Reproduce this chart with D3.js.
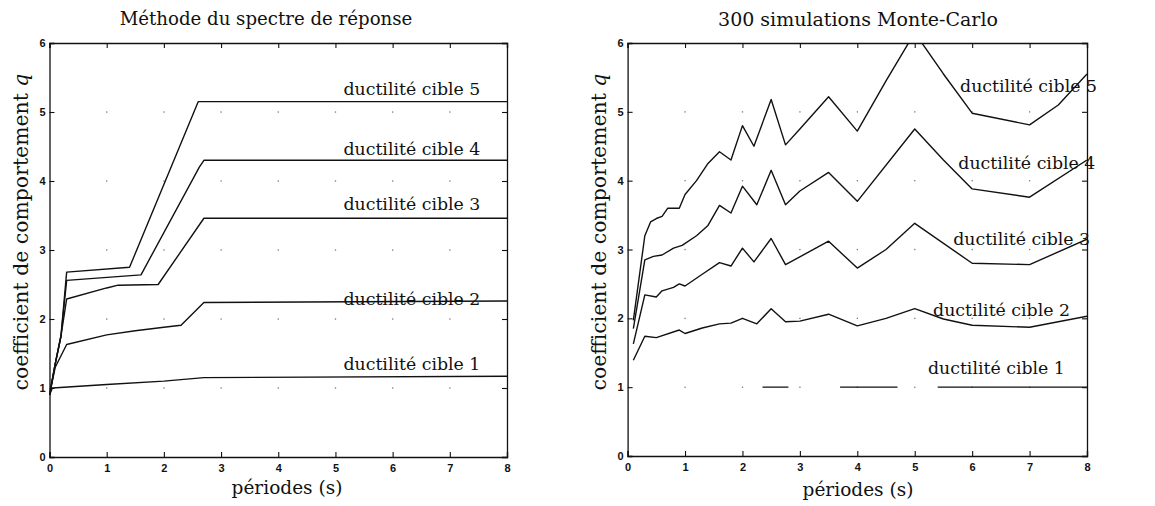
<!DOCTYPE html>
<html><head><meta charset="utf-8">
<script src="https://cdn.jsdelivr.net/npm/d3@7/dist/d3.min.js"></script>
<style>
body{margin:0;background:#fff;}
svg{display:block;}
</style></head>
<body>
<svg id="chart" width="1155" height="506"></svg>
<script>
// ---------- DATA ----------
const xTicks = [0,1,2,3,4,5,6,7,8];
const yTicks = [0,1,2,3,4,5,6];
const titles = ["Méthode du spectre de réponse", "300 simulations Monte-Carlo"];
const xLabel = "périodes (s)";
const yLabelMain = "coefficient de comportement ";
const yLabelVar = "q";
const seriesNames = ["ductilité cible 1","ductilité cible 2","ductilité cible 3","ductilité cible 4","ductilité cible 5"];

// Left panel: response spectrum method, [period, q]
const leftD1 = [[0,0.9],[0.05,1.0],[1,1.05],[2,1.1],[2.7,1.15],[8,1.17]];
const leftD2 = [[0,0.9],[0.1,1.3],[0.3,1.63],[1,1.77],[1.5,1.83],[2,1.88],[2.3,1.91],[2.7,2.24],[8,2.26]];
const leftD3 = [[0,0.9],[0.1,1.35],[0.2,1.75],[0.3,2.29],[1,2.45],[1.2,2.49],[1.9,2.5],[2.7,3.46],[8,3.46]];
const leftD4 = [[0,0.9],[0.1,1.35],[0.2,1.75],[0.3,2.56],[1.6,2.64],[2.62,4.2],[2.7,4.3],[8,4.3]];
const leftD5 = [[0,0.9],[0.1,1.35],[0.2,1.75],[0.3,2.68],[1.4,2.75],[2.6,5.15],[8,5.15]];

// Right panel: 300 Monte-Carlo simulations, [period, q] (null = gap in the printed line)
const rightD1 = [[2.35,1],[2.8,1],[2.8,null],[3.7,1],[4.7,1],[4.7,null],[5.4,1],[8,1]];
const rightD2 = [[0.1,1.39],[0.3,1.74],[0.5,1.72],[0.9,1.83],[1.0,1.78],[1.3,1.86],[1.6,1.92],[1.8,1.93],[2.0,2.0],[2.25,1.92],[2.5,2.14],[2.75,1.95],[3.0,1.96],[3.5,2.06],[4.0,1.89],[4.5,2.0],[5.0,2.14],[5.5,1.99],[6.0,1.9],[7.0,1.87],[8.0,2.03]];
const rightD3 = [[0.1,1.63],[0.3,2.34],[0.5,2.31],[0.6,2.4],[0.8,2.45],[0.9,2.5],[1.0,2.47],[1.3,2.64],[1.6,2.81],[1.8,2.76],[2.0,3.02],[2.2,2.82],[2.5,3.16],[2.75,2.78],[3.5,3.12],[4.0,2.73],[4.5,3.0],[5.0,3.38],[6.0,2.8],[7.0,2.78],[8.0,3.15]];
const rightD4 = [[0.1,1.85],[0.3,2.85],[0.45,2.9],[0.6,2.92],[0.8,3.02],[0.95,3.06],[1.2,3.2],[1.4,3.35],[1.6,3.64],[1.8,3.53],[2.0,3.92],[2.25,3.65],[2.5,4.15],[2.75,3.65],[3.0,3.85],[3.5,4.12],[4.0,3.7],[5.0,4.75],[5.5,4.3],[6.0,3.88],[7.0,3.76],[8.0,4.3]];
const rightD5 = [[0.1,1.97],[0.3,3.2],[0.4,3.4],[0.5,3.45],[0.6,3.48],[0.7,3.6],[0.9,3.6],[1.0,3.8],[1.2,4.0],[1.4,4.25],[1.6,4.42],[1.8,4.3],[2.0,4.8],[2.2,4.5],[2.5,5.18],[2.75,4.52],[3.0,4.75],[3.5,5.22],[4.0,4.72],[4.5,5.45],[5.0,6.15],[5.5,5.55],[6.0,4.98],[7.0,4.81],[7.5,5.1],[8.0,5.55]];

// label anchor positions in data units [period, q]
const leftLabelPos  = [[5.14,1.26],[5.14,2.2],[5.14,3.58],[5.14,4.38],[5.14,5.25]];
const rightLabelPos = [[5.23,1.19],[5.32,2.03],[5.67,3.06],[5.76,4.17],[5.79,5.29]];

// ---------- DRAW ----------
const svg = d3.select("#chart");
const serif = "'DejaVu Serif','Liberation Serif',serif";

// font size giving a target rendered width for a text
function fitSize(str, width) {
  const t = svg.append("text").attr("font-family",serif).attr("font-size",20).text(str);
  const w = t.node().getComputedTextLength();
  t.remove();
  return 20 * width / w;
}
const fsLabel = fitSize(seriesNames[4], 137);
const fsXLab = fitSize(xLabel, 111);
const fsYLab = fitSize(yLabelMain + yLabelVar, 317);

const panels = [
  {left:49.5, right:507, top:43, bottom:457, title:titles[0], titleX:266, titleW:293, titleY:25, cx:287, xlY:494,
   series:[leftD1,leftD2,leftD3,leftD4,leftD5], labels:leftLabelPos, id:"L"},
  {left:627.6, right:1087, top:43, bottom:456, title:titles[1], titleX:858, titleW:280, titleY:26, cx:858, xlY:496,
   series:[rightD1,rightD2,rightD3,rightD4,rightD5], labels:rightLabelPos, id:"R"}
];

panels.forEach(p => {
  const x = d3.scaleLinear().domain([0,8]).range([p.left,p.right]);
  const y = d3.scaleLinear().domain([0,6]).range([p.bottom,p.top]);
  const g = svg.append("g");

  g.append("clipPath").attr("id","clip"+p.id)
    .append("rect").attr("x",p.left).attr("y",p.top)
    .attr("width",p.right-p.left).attr("height",p.bottom-p.top);

  // faint dotted grid remnants at tick intersections
  xTicks.slice(1,-1).forEach(tx => yTicks.slice(1,-1).forEach(ty => {
    g.append("rect").attr("x",x(tx)-0.6).attr("y",y(ty)-0.6)
      .attr("width",1.3).attr("height",1.3).attr("fill","#777");
  }));

  // axes (inward ticks, all four sides)
  const tl = -5;
  g.append("g").attr("transform",`translate(0,${p.bottom})`)
    .call(d3.axisBottom(x).tickValues(xTicks).tickSize(tl).tickPadding(7).tickFormat(d3.format("d")));
  g.append("g").attr("transform",`translate(0,${p.top})`)
    .call(d3.axisTop(x).tickValues(xTicks).tickSize(tl).tickFormat(""));
  g.append("g").attr("transform",`translate(${p.left},0)`)
    .call(d3.axisLeft(y).tickValues(yTicks).tickSize(tl).tickPadding(4).tickFormat(d3.format("d")));
  g.append("g").attr("transform",`translate(${p.right},0)`)
    .call(d3.axisRight(y).tickValues(yTicks).tickSize(tl).tickFormat(""));
  g.selectAll(".domain").attr("stroke","#111").attr("stroke-width",1.3);
  g.selectAll(".tick line").attr("stroke","#111").attr("stroke-width",1.1);
  g.selectAll(".tick text").attr("font-family","'Liberation Sans',Arial,sans-serif")
    .attr("font-weight","bold").attr("font-size",11).attr("fill","#111");

  // lines
  const line = d3.line().defined(d => d[1] !== null).x(d => x(d[0])).y(d => y(d[1]));
  g.append("g").attr("clip-path",`url(#clip${p.id})`)
    .selectAll("path").data(p.series).join("path")
    .attr("d", line).attr("fill","none").attr("stroke","#111")
    .attr("stroke-width",1.4).attr("stroke-linejoin","round");

  // series labels
  g.selectAll("text.lab").data(p.labels).join("text").attr("class","lab")
    .attr("x", d => x(d[0])).attr("y", d => y(d[1]))
    .attr("font-family",serif).attr("font-size",fsLabel).attr("fill","#111")
    .text((d,i) => seriesNames[i]);

  // title
  g.append("text").attr("x",p.titleX).attr("y",p.titleY).attr("text-anchor","middle")
    .attr("font-family",serif).attr("font-size",fitSize(p.title, p.titleW)).attr("fill","#111").text(p.title);

  // x label
  g.append("text").attr("x",p.cx).attr("y",p.xlY).attr("text-anchor","middle")
    .attr("font-family",serif).attr("font-size",fsXLab).attr("fill","#111").text(xLabel);

  // y label
  const yl = g.append("text").attr("transform",`translate(${p.left-22},232) rotate(-90)`)
    .attr("text-anchor","middle").attr("font-family",serif).attr("font-size",fsYLab).attr("fill","#111");
  yl.append("tspan").text(yLabelMain);
  yl.append("tspan").attr("font-style","italic").text(yLabelVar);
});
</script>
</body></html>
